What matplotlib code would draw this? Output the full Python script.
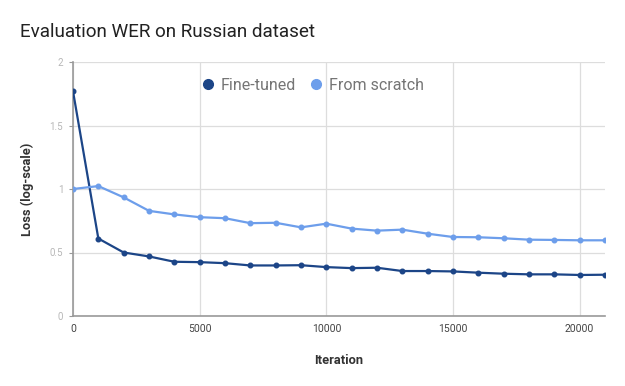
import numpy as np
import matplotlib
matplotlib.use("Agg")
import matplotlib.pyplot as plt

# ---------------------------------------------------------------------------
# Data
# ---------------------------------------------------------------------------
iterations = np.arange(0, 22000, 1000)

fine_tuned = [1.77, 0.61, 0.50, 0.469, 0.427, 0.424, 0.416, 0.398, 0.398, 0.40, 0.385,
              0.377, 0.38, 0.354, 0.354, 0.351, 0.341, 0.333, 0.328, 0.328, 0.323, 0.325]
from_scratch = [1.00, 1.023, 0.934, 0.828, 0.80, 0.778, 0.77, 0.731, 0.734, 0.698, 0.727,
                0.688, 0.672, 0.68, 0.648, 0.622, 0.62, 0.612, 0.601, 0.599, 0.596, 0.596]

x_ticks = [0, 5000, 10000, 15000, 20000]
y_ticks = [0, 0.5, 1, 1.5, 2]
y_ticklabels = ["0", "0.5", "1", "1.5", "2"]

# ---------------------------------------------------------------------------
# Style
# ---------------------------------------------------------------------------
plt.rcParams["font.family"] = ["Roboto", "DejaVu Sans"]

C_FINE = "#1c4587"
C_SCRATCH = "#6d9eeb"

fig = plt.figure(figsize=(6.25, 3.86), dpi=100)
ax = fig.add_axes([73 / 625, 1 - 316 / 386, 532 / 625, 254 / 386])

ax.plot(iterations, fine_tuned, color=C_FINE, lw=1.6, marker="o", ms=3.3,
        label="Fine-tuned", zorder=3)
ax.plot(iterations, from_scratch, color=C_SCRATCH, lw=1.6, marker="o", ms=3.3,
        label="From scratch", zorder=3)

ax.set_xlim(0, 21000)
ax.set_ylim(0, 2)
ax.set_xticks(x_ticks)
ax.set_xticklabels([str(v) for v in x_ticks], fontsize=7.5, color="#444444")
ax.set_yticks(y_ticks)
ax.set_yticklabels(y_ticklabels, fontsize=7, color="#b7b7b7")
ax.tick_params(axis="x", length=0, pad=6)
ax.tick_params(axis="y", length=3, width=0.8, color="#999999", pad=4)

ax.grid(True, color="#dddddd", lw=0.9)
ax.set_axisbelow(True)
for side in ["top", "right"]:
    ax.spines[side].set_visible(False)
for side in ["left", "bottom"]:
    ax.spines[side].set_color("#999999")
    ax.spines[side].set_linewidth(1.2)

ax.set_xlabel("Iteration", fontsize=9.3, fontweight="bold", color="#333333", labelpad=14)
ax.set_ylabel("Loss (log-scale)", fontsize=9.3, fontweight="bold", color="#333333", labelpad=11)

fig.text(20 / 625, 1 - 32 / 386, "Evaluation WER on Russian dataset",
         fontsize=13.6, color="#222222", va="center", ha="left")

leg = ax.legend(loc="upper center", bbox_to_anchor=(0.452, 0.995), ncol=2, frameon=False,
                fontsize=11.5, handlelength=0.6, handletextpad=0.5, columnspacing=1.0,
                labelcolor="#757575")
for h in leg.legend_handles:
    h.set_linestyle("none")
    h.set_markersize(7)

fig.savefig("out.png", dpi=100)
